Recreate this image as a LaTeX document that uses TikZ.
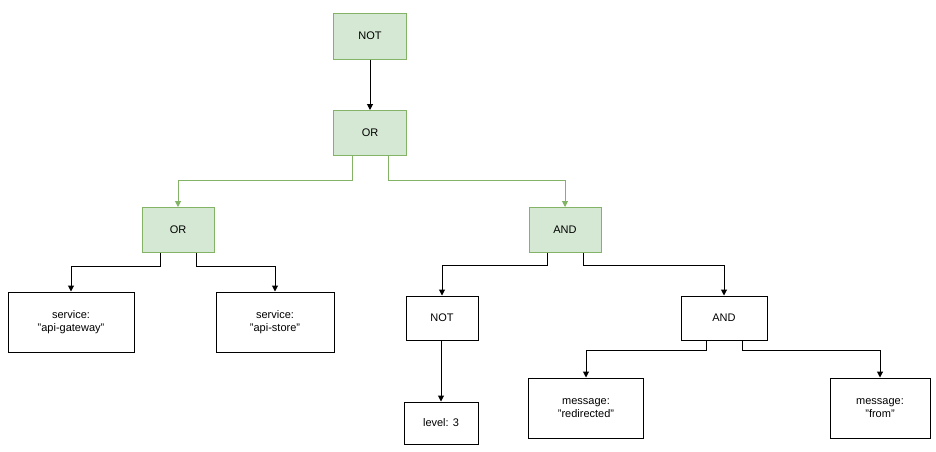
\documentclass[tikz,border=0pt]{standalone}
\usepackage{fontspec}
\setmainfont{Liberation Sans}
\usetikzlibrary{arrows.meta}
\definecolor{gfill}{HTML}{D5E8D4}
\definecolor{gline}{HTML}{82B366}
\begin{document}
\begin{tikzpicture}[x=1pt,y=-1pt,
  box/.style={draw=black,fill=white,line width=1pt,align=center,font=\fontsize{11}{13}\selectfont,inner sep=0pt},
  op/.style={box,draw=gline,fill=gfill},
  e/.style={draw=black,line width=1pt,-{Triangle[length=6pt,width=6pt]}},
  eg/.style={e,draw=gline,-{Triangle[length=6pt,width=6pt,fill=gline]}}]
\useasboundingbox[fill=white] (0,0) rectangle (936,451);
\node[op,minimum width=73pt,minimum height=46pt] (not1) at (370,36) {NOT};
\node[op,minimum width=73pt,minimum height=45pt] (or1) at (370,133) {OR};
\node[op,minimum width=72pt,minimum height=45pt] (or2) at (178,230) {OR};
\node[op,minimum width=72pt,minimum height=45pt] (and1) at (565,230) {AND};
\node[box,minimum width=126pt,minimum height=60pt] (s1) at (71,322) {service:\\"api-gateway"};
\node[box,minimum width=118pt,minimum height=60pt] (s2) at (275,322) {service:\\"api-store"};
\node[box,minimum width=72pt,minimum height=44pt] (not2) at (442,318) {NOT};
\node[box,minimum width=86pt,minimum height=44pt] (and2) at (724,318) {AND};
\node[box,minimum width=74pt,minimum height=42pt] (lvl) at (441,423) {level: 3};
\node[box,minimum width=115pt,minimum height=60pt] (m1) at (586,408) {message:\\"redirected"};
\node[box,minimum width=100pt,minimum height=60pt] (m2) at (880,408) {message:\\"from"};
\draw[e] (not1) -- (or1);
\draw[eg] (or1.south -| 352,0) -- (352,180) -| (or2.north);
\draw[eg] (or1.south -| 388,0) -- (388,180) -| (and1.north);
\draw[e] (or2.south -| 160,0) -- (160,266) -| (s1.north);
\draw[e] (or2.south -| 196,0) -- (196,266) -| (s2.north);
\draw[e] (and1.south -| 547,0) -- (547,265) -| (not2.north);
\draw[e] (and1.south -| 583,0) -- (583,265) -| (and2.north);
\draw[e] (not2.south -| lvl.north) -- (lvl.north);
\draw[e] (and2.south -| 706,0) -- (706,350) -| (m1.north);
\draw[e] (and2.south -| 742,0) -- (742,350) -| (m2.north);
\end{tikzpicture}
\end{document}
